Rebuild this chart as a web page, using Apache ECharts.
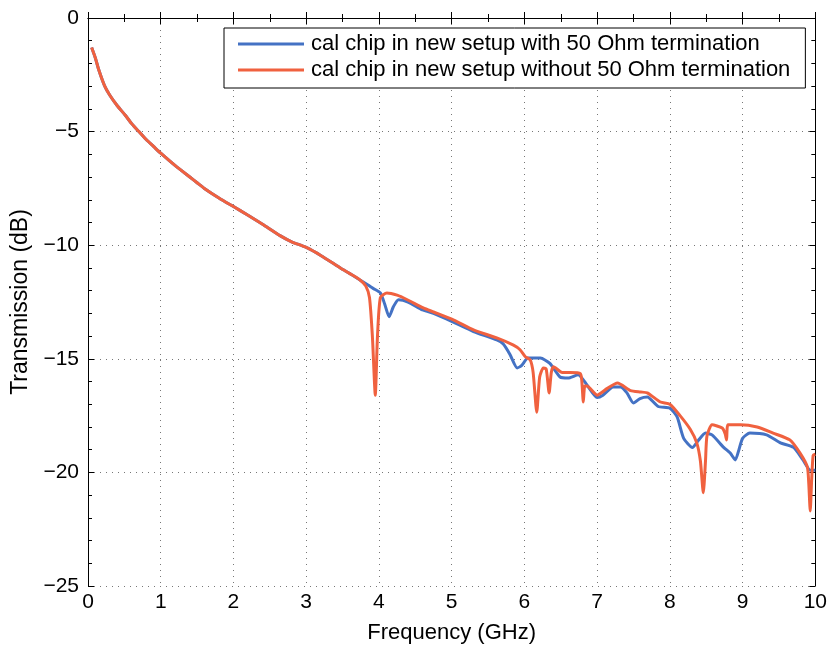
<!DOCTYPE html>
<html>
<head>
<meta charset="utf-8">
<script src="https://cdn.jsdelivr.net/npm/echarts@6/dist/echarts.min.js"></script>
<style>
  html, body { margin: 0; padding: 0; background: #fff; }
  #chart { width: 830px; height: 650px; }
</style>
</head>
<body>
<div id="chart"></div>
<script>
var seriesNames = [
  'cal chip in new setup with 50 Ohm termination',
  'cal chip in new setup without 50 Ohm termination'
]

// frequency (GHz) / transmission (dB)
var blueFreq = [0.05, 0.1, 0.15, 0.23, 0.3, 0.4, 0.51, 0.6, 0.7, 0.8, 0.9, 1.0, 1.2, 1.4, 1.5, 1.6, 1.8, 2.0, 2.2, 2.4, 2.64, 2.8, 3.0, 3.2, 3.47, 3.6, 3.74,
  3.85, 3.92, 4.02, 4.08, 4.14, 4.2, 4.27, 4.4, 4.6, 4.75, 5.0, 5.3, 5.62, 5.71, 5.8, 5.9, 5.96, 6.05, 6.22, 6.35, 6.49, 6.6, 6.74, 6.86,
  7.0, 7.08, 7.22, 7.32, 7.41, 7.5, 7.59, 7.69, 7.84, 8.0, 8.1, 8.19, 8.31, 8.39, 8.49, 8.58, 8.74, 8.83, 8.9, 8.95, 9.0, 9.1, 9.33,
  9.52, 9.7, 9.83, 9.93, 10.0]
var blueDb = [-1.3, -1.75, -2.3, -3.0, -3.4, -3.85, -4.27, -4.65, -5.0, -5.35, -5.65, -5.95, -6.5, -7.0, -7.25, -7.5, -7.92, -8.3, -8.68, -9.08, -9.58, -9.85, -10.1, -10.45, -11.0, -11.25, -11.53,
  -11.75, -11.9, -12.1, -12.6, -13.15, -12.7, -12.4, -12.5, -12.85, -13.0, -13.35, -13.8, -14.17, -14.35, -14.8, -15.4, -15.3, -14.97, -14.97, -15.2, -15.8, -15.85, -15.7, -16.15,
  -16.7, -16.6, -16.24, -16.24, -16.5, -16.95, -16.75, -16.68, -17.1, -17.17, -17.56, -18.5, -18.9, -18.6, -18.27, -18.35, -18.9, -19.15, -19.45, -19.0, -18.5, -18.27, -18.35,
  -18.7, -18.9, -19.45, -19.9, -19.9]

var redFreq = [0.05, 0.1, 0.15, 0.23, 0.3, 0.4, 0.51, 0.6, 0.7, 0.8, 0.9, 1.0, 1.2, 1.4, 1.5, 1.6, 1.8, 2.0, 2.2, 2.4, 2.64, 2.8, 3.0, 3.2, 3.47, 3.6, 3.74,
  3.82, 3.87, 3.91, 3.95, 3.98, 4.02, 4.11, 4.25, 4.39, 4.61, 4.75, 5.03, 5.3, 5.62, 5.85, 5.94, 6.01, 6.08, 6.12, 6.17, 6.21, 6.26, 6.3, 6.34, 6.37, 6.4,
  6.52, 6.63, 6.77, 6.79, 6.81, 6.83, 6.86, 7.0, 7.14, 7.28, 7.46, 7.6, 7.69, 7.87, 8.0, 8.14, 8.28, 8.37, 8.42, 8.46, 8.49, 8.51, 8.58, 8.72, 8.76,
  8.78, 8.8, 8.97, 9.2, 9.42, 9.65, 9.79, 9.89, 9.91, 9.93, 9.95, 9.97, 10.0]
var redDb = [-1.3, -1.75, -2.3, -3.0, -3.4, -3.85, -4.27, -4.65, -5.0, -5.35, -5.65, -5.95, -6.5, -7.0, -7.25, -7.5, -7.92, -8.3, -8.68, -9.08, -9.58, -9.85, -10.1, -10.45, -11.0, -11.25, -11.53,
  -11.8, -12.3, -14.0, -16.6, -14.0, -12.3, -12.1, -12.2, -12.4, -12.76, -12.94, -13.3, -13.73, -14.08, -14.4, -14.6, -14.9, -15.05, -15.6, -17.35, -15.8, -15.4, -15.45, -16.5, -15.6, -15.35,
  -15.6, -15.6, -15.65, -16.0, -16.9, -16.2, -16.2, -16.6, -16.3, -16.07, -16.4, -16.46, -16.5, -16.9, -17.0, -17.5, -18.1, -18.7, -19.5, -20.9, -19.5, -18.4, -17.9, -18.05, -18.3,
  -18.57, -17.9, -17.9, -18.0, -18.27, -18.57, -19.15, -19.76, -20.5, -21.7, -20.3, -19.25, -19.2]

function pairs (xs, ys) {
  return xs.map(function (x, i) { return [x, ys[i]] })
}

var fontFamily = '"Liberation Sans", Arial, sans-serif'
var minusFmt = function (v) { return String(v).replace('-', '\u2212') }
var tick = { inside: true, length: 6, lineStyle: { color: '#000' } }
var minor = { show: true, length: 4, lineStyle: { color: '#000' } }

var chart = echarts.init(document.getElementById('chart'))
chart.setOption({
  animation: false,
  backgroundColor: '#fff',
  textStyle: { fontFamily: fontFamily },
  grid: { left: 88, right: 14, top: 18, bottom: 64, show: false },
  legend: {
    orient: 'vertical',
    left: 224,
    top: 28,
    padding: [5, 15, 7, 14],
    itemGap: 4,
    itemWidth: 66,
    itemHeight: 3,
    icon: 'rect',
    borderColor: '#000',
    borderWidth: 1,
    backgroundColor: '#fff',
    textStyle: { fontSize: 22, color: '#000', fontFamily: fontFamily, padding: [0, 0, 0, 2] },
    data: seriesNames
  },
  xAxis: [
    {
      type: 'value',
      min: 0,
      max: 10,
      interval: 1,
      name: 'Frequency (GHz)',
      nameLocation: 'middle',
      nameGap: 36,
      nameTextStyle: { fontSize: 22, color: '#000' },
      axisLine: { lineStyle: { color: '#000', width: 1 } },
      axisTick: tick,
      minorTick: Object.assign({ splitNumber: 2 }, minor),
      axisLabel: { fontSize: 21, color: '#000', margin: 6 },
      splitLine: { show: true, lineStyle: { color: '#777', type: [1, 5] } }
    },
    {
      type: 'value',
      position: 'top',
      min: 0,
      max: 10,
      interval: 1,
      axisLine: { show: true, onZero: false, lineStyle: { color: '#000', width: 1 } },
      axisTick: tick,
      minorTick: Object.assign({ splitNumber: 2 }, minor),
      axisLabel: { show: false },
      splitLine: { show: false }
    }
  ],
  yAxis: [
    {
      type: 'value',
      min: -25,
      max: 0,
      interval: 5,
      name: 'Transmission (dB)',
      nameLocation: 'middle',
      nameGap: 56,
      nameTextStyle: { fontSize: 23, color: '#000' },
      axisLine: { show: true, lineStyle: { color: '#000', width: 1 } },
      axisTick: tick,
      minorTick: Object.assign({ splitNumber: 5 }, minor),
      axisLabel: { fontSize: 21, color: '#000', margin: 9, formatter: minusFmt },
      splitLine: { show: true, lineStyle: { color: '#777', type: [1, 5] } }
    },
    {
      type: 'value',
      position: 'right',
      min: -25,
      max: 0,
      interval: 5,
      axisLine: { show: true, onZero: false, lineStyle: { color: '#000', width: 1 } },
      axisTick: tick,
      minorTick: Object.assign({ splitNumber: 5 }, minor),
      axisLabel: { show: false },
      splitLine: { show: false }
    }
  ],
  series: [
    {
      name: seriesNames[0],
      type: 'line',
      showSymbol: false,
      smooth: 0.2,
      color: '#4472c4',
      lineStyle: { width: 3, color: '#4472c4' },
      data: pairs(blueFreq, blueDb)
    },
    {
      name: seriesNames[1],
      type: 'line',
      showSymbol: false,
      smooth: 0.2,
      color: '#f0613f',
      lineStyle: { width: 3, color: '#f0613f' },
      data: pairs(redFreq, redDb)
    }
  ]
})
</script>
</body>
</html>
